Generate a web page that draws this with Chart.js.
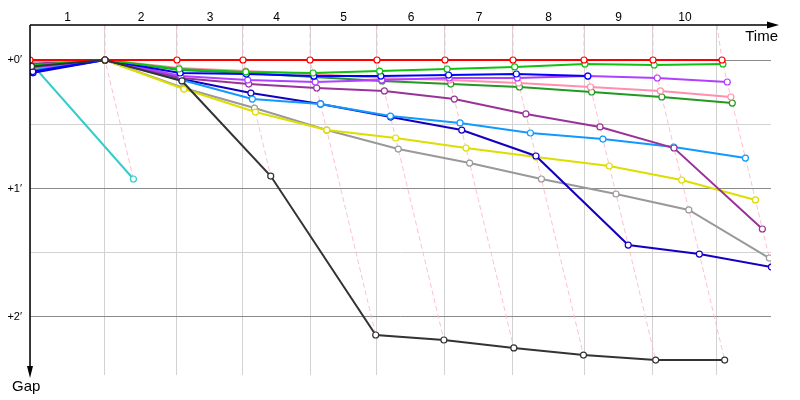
<!DOCTYPE html>
<html><head><meta charset="utf-8">
<script src="https://cdn.jsdelivr.net/npm/chart.js@4/dist/chart.umd.min.js"></script>
<style>html,body{margin:0;padding:0;background:#fff}#wrap{width:800px;height:400px;position:relative}</style>
</head><body><div id="wrap"><canvas id="c"></canvas></div>
<script>
// ---- data ----
const lapLabels = ['1','2','3','4','5','6','7','8','9','10'];
// cumulative time of the leader at each lap line (lap 0 = start)
const leaderTimes = [0, 2.443, 4.788, 6.938, 9.121, 11.303, 13.518, 15.733, 18.046, 20.293, 22.541];
// time of the vertical lap lines in the grid
const lapLineTimes = [0, 2.443, 4.788, 6.938, 9.121, 11.303, 13.518, 15.733, 18.046, 20.293, 22.378];
const gapTicks = [0, 0.5, 1, 1.5, 2];
const gapTickLabels = ['+0\u2032', '', '+1\u2032', '', '+2\u2032'];
const axisTimeLabel = 'Time';
const axisGapLabel = 'Gap';

// gap to leader per lap (index = lap, 0 = start)
const gapBlack     = [0.05, 0, 0.163, 0.903, 2.140, 2.179, 2.241, 2.296, 2.335, 2.335];
const gapRed       = [0, 0, 0, 0, 0, 0, 0, 0, 0, 0, 0];
const gapGreen     = [0.04, 0, 0.070, 0.093, 0.101, 0.086, 0.070, 0.054, 0.031, 0.039, 0.031];
const gapBlue      = [0.09, 0, 0.101, 0.109, 0.125, 0.125, 0.117, 0.109, 0.125];
const gapViolet    = [0.06, 0, 0.125, 0.156, 0.171, 0.156, 0.140, 0.140, 0.125, 0.140, 0.171];
const gapPink      = [0.01, 0, 0.062, 0.086, 0.109, 0.140, 0.156, 0.179, 0.210, 0.241, 0.288];
const gapDarkGreen = [0.05, 0, 0.078, 0.101, 0.132, 0.163, 0.187, 0.210, 0.249, 0.288, 0.335];
const gapPurple    = [0.03, 0, 0.140, 0.187, 0.218, 0.241, 0.304, 0.420, 0.521, 0.685, 1.315];
const gapLightBlue = [0.08, 0, 0.156, 0.304, 0.342, 0.436, 0.490, 0.568, 0.615, 0.677, 0.763];
const gapNavy      = [0.10, 0, 0.148, 0.257, 0.342, 0.444, 0.545, 0.747, 1.440, 1.510, 1.611];
const gapYellow    = [0.07, 0, 0.226, 0.405, 0.545, 0.607, 0.685, 0.755, 0.825, 0.934, 1.089];
const gapGray      = [0.08, 0, 0.218, 0.374, 0.545, 0.693, 0.802, 0.926, 1.043, 1.167, 1.541];
const gapCyan      = [0.02, 0.926];

const cars = [
  {gaps: gapBlack, color: '#333333'},
  {gaps: gapRed, color: '#ff0000'},
  {gaps: gapGreen, color: '#11c011'},
  {gaps: gapBlue, color: '#0000ff'},
  {gaps: gapViolet, color: '#b040ff'},
  {gaps: gapPink, color: '#ff8fae'},
  {gaps: gapDarkGreen, color: '#229922'},
  {gaps: gapPurple, color: '#993399'},
  {gaps: gapLightBlue, color: '#1199ff'},
  {gaps: gapNavy, color: '#1400c0'},
  {gaps: gapYellow, color: '#dddd00'},
  {gaps: gapGray, color: '#999999'},
  {gaps: gapCyan, color: '#33cccc'}
];

const Y_MIN = -0.2724, Y_MAX = 2.4514, X_MAX = 24.137;

// ---- build datasets ----
const datasets = cars.map(c => ({
  type: 'line',
  data: c.gaps.map((g, i) => ({x: leaderTimes[i] + g, y: g})),
  borderColor: c.color,
  borderWidth: 2,
  pointRadius: 3,
  pointBorderWidth: 1.2,
  pointBackgroundColor: '#ffffff',
  pointBorderColor: c.color,
  tension: 0,
  fill: false
}));

for (let k = 1; k < leaderTimes.length; k++) {
  let gmax = 0;
  cars.forEach(c => { if (c.gaps[k] != null && c.gaps[k] > gmax) gmax = c.gaps[k]; });
  datasets.push({
    type: 'line',
    data: [{x: lapLineTimes[k], y: Y_MIN}, {x: leaderTimes[k], y: 0}, {x: leaderTimes[k] + gmax, y: gmax}],
    borderColor: 'rgba(255,185,200,0.9)',
    borderWidth: 1,
    borderDash: [5, 3],
    pointRadius: 0,
    tension: 0,
    fill: false
  });
}

// x ticks: grid ticks at lap lines + label ticks at lap mid points
const xTickInfo = [];
lapLineTimes.forEach(t => xTickInfo.push({value: t, grid: true, label: ''}));
for (let k = 0; k < lapLabels.length; k++) {
  xTickInfo.push({value: (lapLineTimes[k] + lapLineTimes[k + 1]) / 2, grid: false, label: lapLabels[k]});
}
xTickInfo.sort((a, b) => a.value - b.value);

const axesPlugin = {
  id: 'axesPlugin',
  afterDraw(chart) {
    const {ctx, chartArea: a} = chart;
    ctx.save();
    ctx.strokeStyle = '#000';
    ctx.fillStyle = '#000';
    ctx.lineWidth = 1.5;
    ctx.beginPath();
    ctx.moveTo(a.left, a.top); ctx.lineTo(770, a.top);
    ctx.moveTo(a.left, a.top); ctx.lineTo(a.left, 368);
    ctx.stroke();
    ctx.beginPath();
    ctx.moveTo(767, a.top - 3.5); ctx.lineTo(779, a.top); ctx.lineTo(767, a.top + 3.5); ctx.closePath(); ctx.fill();
    ctx.beginPath();
    ctx.moveTo(a.left - 3, 366); ctx.lineTo(a.left, 378); ctx.lineTo(a.left + 3, 366); ctx.closePath(); ctx.fill();
    ctx.font = '15px "Liberation Sans", Arial, sans-serif';
    ctx.textBaseline = 'alphabetic';
    ctx.textAlign = 'right';
    ctx.fillText(axisTimeLabel, 778, 41);
    ctx.textAlign = 'left';
    ctx.fillText(axisGapLabel, 12, 391);
    ctx.restore();
  }
};

new Chart(document.getElementById('c'), {
  type: 'scatter',
  data: {datasets},
  options: {
    responsive: true,
    maintainAspectRatio: false,
    animation: false,
    layout: {padding: {left: 0, top: 0, right: 29, bottom: 25}},
    plugins: {legend: {display: false}, tooltip: {enabled: false}},
    scales: {
      x: {
        type: 'linear', position: 'top', min: 0, max: X_MAX,
        afterBuildTicks: s => { s.ticks = xTickInfo.map(t => ({value: t.value})); },
        afterFit: s => { s.height = 25; },
        border: {display: false},
        grid: {drawTicks: false, color: ctx => (xTickInfo[ctx.index] && xTickInfo[ctx.index].grid) ? '#d2d2d2' : 'rgba(0,0,0,0)', lineWidth: 1},
        ticks: {autoSkip: false, maxRotation: 0, padding: 0, color: '#000',
          font: {family: '"Liberation Sans", Arial, sans-serif', size: 12},
          callback: (v, i) => xTickInfo[i] ? xTickInfo[i].label : ''}
      },
      y: {
        type: 'linear', position: 'left', reverse: true, min: Y_MIN, max: Y_MAX,
        afterBuildTicks: s => { s.ticks = gapTicks.map(v => ({value: v})); },
        afterFit: s => { s.width = 30; },
        border: {display: false},
        grid: {drawTicks: false, color: ctx => (ctx.index % 2 === 0) ? '#8a8a8a' : '#d2d2d2', lineWidth: 1},
        ticks: {autoSkip: false, padding: 8, color: '#000',
          font: {family: '"Liberation Sans", Arial, sans-serif', size: 11},
          callback: (v, i) => gapTickLabels[i] || ''}
      }
    }
  },
  plugins: [axesPlugin]
});
</script>
</body></html>
